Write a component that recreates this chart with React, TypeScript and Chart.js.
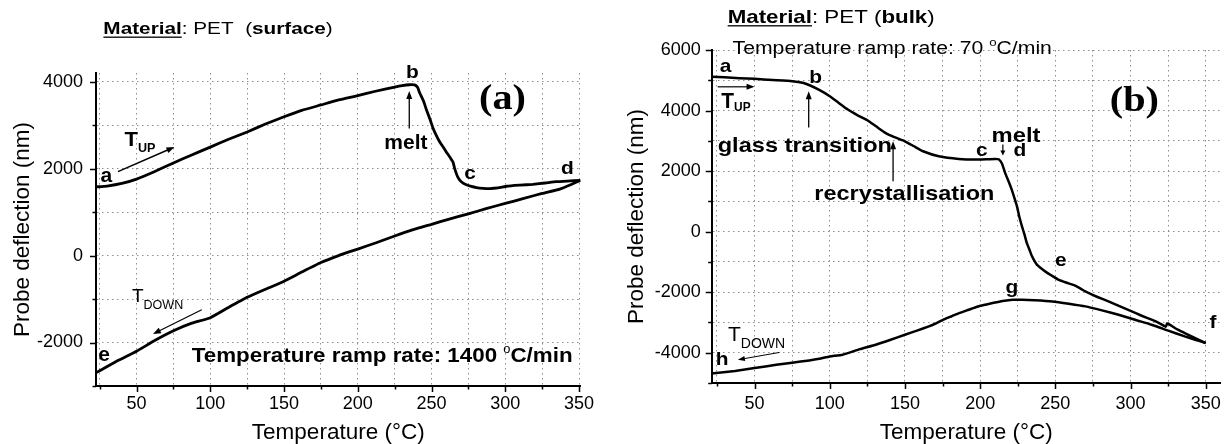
import React, { useEffect, useRef } from 'react';
import { Chart, registerables } from 'chart.js';

Chart.register(...registerables);

// ---------------- DATA ----------------
// Panel (a): PET surface, heating (T_UP) a -> b -> c -> d
const A_UP_T = [22.5, 30, 40, 50, 62, 75, 87, 100, 112, 125, 137, 150, 162, 175, 187, 200, 212, 225, 230, 235, 238.5, 240.5, 242, 244.5, 246.6, 249, 251.1, 253.3, 255.6, 258, 260.1, 262.5, 264.6, 265.7, 267.9, 270.2, 273.6, 277, 280.4, 285, 289.4, 295, 301, 310, 318.7, 327, 334.5, 342, 351];
const A_UP_D = [1580, 1600, 1660, 1760, 1930, 2130, 2310, 2495, 2670, 2844, 3020, 3193, 3340, 3465, 3580, 3681, 3780, 3877, 3910, 3930, 3925, 3870, 3740, 3560, 3349, 3130, 2923, 2760, 2612, 2490, 2379, 2260, 2147, 2000, 1798, 1698, 1628, 1590, 1565, 1548, 1542, 1555, 1595, 1620, 1640, 1670, 1700, 1715, 1730];
// Panel (a): cooling (T_DOWN) d -> e
const A_DOWN_T = [351, 345, 337, 325, 312, 300, 287, 275, 262, 250, 237, 225, 212, 200, 187, 175, 162, 150, 137, 125, 112, 100, 87, 75, 62, 50, 37, 25, 22.5];
const A_DOWN_D = [1730, 1640, 1530, 1430, 1310, 1200, 1080, 960, 840, 720, 590, 450, 290, 150, 0, -160, -380, -590, -780, -960, -1200, -1430, -1560, -1730, -1960, -2200, -2420, -2650, -2690];

// Panel (b): PET bulk, heating a -> b -> c -> d -> e -> f
const B_UP_T = [21.5, 30, 40, 50, 62, 75, 82, 87, 93, 100, 106, 112, 118, 125, 131, 137, 143, 150, 156, 162, 172.5, 185.8, 199, 205, 210, 212.3, 214.5, 216.6, 219, 221, 222.8, 224.5, 226, 227.8, 229.5, 231, 232.8, 234.5, 236, 237.7, 240.5, 243.2, 247.5, 252, 257.5, 263.2, 268, 272, 278, 285.3, 293, 300.8, 307, 314, 319, 323.5, 324.3, 326, 330, 336, 343, 350];
const B_UP_D = [5114, 5100, 5070, 5048, 5010, 4970, 4920, 4827, 4680, 4473, 4250, 4033, 3860, 3680, 3470, 3263, 3120, 2985, 2820, 2655, 2490, 2403, 2380, 2390, 2400, 2390, 2250, 1940, 1650, 1390, 1110, 836, 500, 175, -100, -374, -600, -816, -960, -1091, -1210, -1312, -1450, -1587, -1690, -1785, -1920, -2027, -2160, -2304, -2470, -2635, -2770, -2909, -3020, -3140, -3030, -3070, -3200, -3350, -3520, -3680];
// Panel (b): cooling f -> g -> h
const B_DOWN_T = [350, 343, 336, 325, 314, 303, 292, 281, 270, 259, 248, 236, 228, 221.7, 215, 209, 203.5, 198, 192.4, 186, 181.3, 175, 170.3, 165.9, 158, 150, 140, 130.6, 120, 108.5, 100, 93, 86.4, 75, 64.4, 50, 37, 24.6, 21.5];
const B_DOWN_D = [-3680, -3570, -3460, -3270, -3075, -2910, -2744, -2600, -2469, -2380, -2304, -2265, -2250, -2248, -2290, -2350, -2413, -2480, -2579, -2690, -2790, -2920, -3040, -3131, -3270, -3405, -3580, -3736, -3880, -4066, -4122, -4200, -4255, -4330, -4397, -4507, -4600, -4672, -4690];

// Ticks
const X_TICKS = [25, 50, 75, 100, 125, 150, 175, 200, 225, 250, 275, 300, 325, 350];
const X_LABELS = [50, 100, 150, 200, 250, 300, 350];
const A_Y_TICKS = [-3000, -2000, -1000, 0, 1000, 2000, 3000, 4000];
const A_Y_LABELS = [-2000, 0, 2000, 4000];
const B_Y_TICKS = [-5000, -4000, -3000, -2000, -1000, 0, 1000, 2000, 3000, 4000, 5000, 6000];
const B_Y_LABELS = [-4000, -2000, 0, 2000, 4000, 6000];

const X_TITLE = 'Temperature (°C)';
const Y_TITLE = 'Probe deflection (nm)';

// ---------------- ANNOTATIONS (data coordinates) ----------------
type Seg = { t: string; size: number; bold?: boolean; serif?: boolean; dy?: number; underline?: boolean };
type Item =
  | { kind: 'text'; x: number; y: number; sx?: number; segs: Seg[] }
  | { kind: 'arrow'; x1: number; y1: number; x2: number; y2: number; lw?: number; hl?: number; hw?: number };

const A_ITEMS: Item[] = [
  { kind: 'text', x: 27.5, y: 5094, sx: 1.22, segs: [
    { t: 'Material', size: 17, bold: true, underline: true },
    { t: ': PET  (', size: 17 },
    { t: 'surface', size: 17, bold: true },
    { t: ')', size: 17 },
  ] },
  { kind: 'text', x: 282.2, y: 3366, sx: 1.15, segs: [{ t: '(a)', size: 35, bold: true, serif: true }] },
  { kind: 'text', x: 232.7, y: 4087, sx: 1.1, segs: [{ t: 'b', size: 19, bold: true }] },
  { kind: 'text', x: 218, y: 2459, sx: 1.05, segs: [{ t: 'melt', size: 20, bold: true }] },
  { kind: 'arrow', x1: 234.9, y1: 2924, x2: 234.9, y2: 3785, lw: 1.3, hl: 8, hw: 3 },
  { kind: 'text', x: 272.1, y: 1761, sx: 1.1, segs: [{ t: 'c', size: 19, bold: true }] },
  { kind: 'text', x: 337.7, y: 1877, sx: 1.1, segs: [{ t: 'd', size: 19, bold: true }] },
  { kind: 'text', x: 25.5, y: 1684, sx: 1.0, segs: [{ t: 'a', size: 21, bold: true }] },
  { kind: 'text', x: 24.1, y: -2426, sx: 1.0, segs: [{ t: 'e', size: 21, bold: true }] },
  { kind: 'text', x: 41.8, y: 2512, sx: 1.05, segs: [
    { t: 'T', size: 21, bold: true },
    { t: 'UP', size: 12, bold: true, dy: 5.6 },
  ] },
  { kind: 'arrow', x1: 37.4, y1: 1931, x2: 75.7, y2: 2498, lw: 1.5, hl: 8, hw: 3 },
  { kind: 'text', x: 46.9, y: -1070, sx: 1.0, segs: [
    { t: 'T', size: 19 },
    { t: 'DOWN', size: 12.5, dy: 7.3 },
  ] },
  { kind: 'arrow', x1: 94.2, y1: -1247, x2: 61.1, y2: -1805, lw: 1.2, hl: 8, hw: 3 },
  { kind: 'text', x: 87.4, y: -2449, sx: 1.065, segs: [
    { t: 'Temperature ramp rate: 1400 ', size: 21, bold: true },
    { t: 'o', size: 12, dy: -9 },
    { t: 'C/min', size: 21, bold: true },
  ] },
];

const B_ITEMS: Item[] = [
  { kind: 'text', x: 32.1, y: 6900, sx: 1.2, segs: [
    { t: 'Material', size: 18.6, bold: true, underline: true },
    { t: ': PET (', size: 18.6 },
    { t: 'bulk', size: 18.6, bold: true },
    { t: ')', size: 18.6 },
  ] },
  { kind: 'text', x: 35.4, y: 5852, sx: 1.21, segs: [
    { t: 'Temperature ramp rate: 70 ', size: 17.5 },
    { t: 'o', size: 11, dy: -8 },
    { t: 'C/min', size: 17.5 },
  ] },
  { kind: 'text', x: 286.2, y: 4000, sx: 1.15, segs: [{ t: '(b)', size: 35, bold: true, serif: true }] },
  { kind: 'text', x: 26.8, y: 5257, sx: 1.1, segs: [{ t: 'a', size: 19, bold: true }] },
  { kind: 'text', x: 86.4, y: 4926, sx: 1.1, segs: [{ t: 'b', size: 19, bold: true }] },
  { kind: 'arrow', x1: 25.5, y1: 4784, x2: 50, y2: 4784, lw: 1.2, hl: 8, hw: 3 },
  { kind: 'text', x: 27.9, y: 4090, sx: 0.95, segs: [
    { t: 'T', size: 22, bold: true },
    { t: 'UP', size: 12.5, bold: true, dy: 3.4 },
  ] },
  { kind: 'arrow', x1: 86, y1: 3438, x2: 86, y2: 4638, lw: 1.3, hl: 8, hw: 3 },
  { kind: 'text', x: 25.5, y: 2645, sx: 1.15, segs: [{ t: 'glass transition', size: 20.5, bold: true }] },
  { kind: 'arrow', x1: 142.1, y1: 1663, x2: 142.1, y2: 2985, lw: 1.3, hl: 8, hw: 3 },
  { kind: 'text', x: 89.7, y: 1058, sx: 1.145, segs: [{ t: 'recrystallisation', size: 20.5, bold: true }] },
  { kind: 'text', x: 207.6, y: 2975, sx: 1.16, segs: [{ t: 'melt', size: 20.5, bold: true }] },
  { kind: 'arrow', x1: 215.1, y1: 2876, x2: 215.1, y2: 2513, lw: 1.2, hl: 5, hw: 2.5 },
  { kind: 'text', x: 197.2, y: 2489, sx: 1.1, segs: [{ t: 'c', size: 19, bold: true }] },
  { kind: 'text', x: 222.2, y: 2489, sx: 1.1, segs: [{ t: 'd', size: 19, bold: true }] },
  { kind: 'text', x: 249.8, y: -1147, sx: 1.1, segs: [{ t: 'e', size: 19, bold: true }] },
  { kind: 'text', x: 216.9, y: -2017, sx: 1.1, segs: [{ t: 'g', size: 19, bold: true }] },
  { kind: 'text', x: 352.5, y: -3184, sx: 1.1, segs: [{ t: 'f', size: 19, bold: true }] },
  { kind: 'text', x: 24.2, y: -4397, sx: 1.1, segs: [{ t: 'h', size: 19, bold: true }] },
  { kind: 'text', x: 32.3, y: -3627, sx: 1.0, segs: [
    { t: 'T', size: 21 },
    { t: 'DOWN', size: 14, dy: 6.6 },
  ] },
  { kind: 'arrow', x1: 66.6, y1: -3990, x2: 38.9, y2: -4232, lw: 1.0, hl: 7, hw: 2.5 },
];

// ---------------- DRAWING HELPERS ----------------
function fontOf(s: Seg) {
  const fam = s.serif ? '"Liberation Serif", "Times New Roman", serif' : '"Liberation Sans", Arial, sans-serif';
  return `${s.bold ? 'bold ' : ''}${s.size}px ${fam}`;
}

function drawRich(ctx: CanvasRenderingContext2D, px: number, py: number, sx: number, segs: Seg[]) {
  ctx.save();
  ctx.translate(px, py);
  ctx.scale(sx, 1);
  ctx.fillStyle = '#000';
  ctx.textAlign = 'left';
  ctx.textBaseline = 'alphabetic';
  let cx = 0;
  for (const s of segs) {
    ctx.font = fontOf(s);
    ctx.fillText(s.t, cx, s.dy || 0);
    const w = ctx.measureText(s.t).width;
    if (s.underline) ctx.fillRect(cx, 2.4, w, 1.3);
    cx += w;
  }
  ctx.restore();
}

function drawArrow(ctx: CanvasRenderingContext2D, x1: number, y1: number, x2: number, y2: number, lw: number, hl: number, hw: number) {
  const a = Math.atan2(y2 - y1, x2 - x1);
  const c = Math.cos(a), s = Math.sin(a);
  ctx.save();
  ctx.strokeStyle = '#000';
  ctx.fillStyle = '#000';
  ctx.lineWidth = lw;
  ctx.beginPath();
  ctx.moveTo(x1, y1);
  ctx.lineTo(x2 - c * hl * 0.7, y2 - s * hl * 0.7);
  ctx.stroke();
  ctx.beginPath();
  ctx.moveTo(x2, y2);
  ctx.lineTo(x2 - hl * c + hw * s, y2 - hl * s - hw * c);
  ctx.lineTo(x2 - hl * c - hw * s, y2 - hl * s + hw * c);
  ctx.closePath();
  ctx.fill();
  ctx.restore();
}

function makeAnnotPlugin(items: Item[]) {
  return {
    id: 'annot',
    afterDraw(chart: any) {
      const { ctx } = chart;
      const xs = chart.scales.x, ys = chart.scales.y;
      for (const it of items) {
        if (it.kind === 'text') {
          drawRich(ctx, xs.getPixelForValue(it.x), ys.getPixelForValue(it.y), it.sx ?? 1, it.segs);
        } else {
          drawArrow(ctx,
            xs.getPixelForValue(it.x1), ys.getPixelForValue(it.y1),
            xs.getPixelForValue(it.x2), ys.getPixelForValue(it.y2),
            it.lw ?? 1.2, it.hl ?? 8, it.hw ?? 3);
        }
      }
    },
  };
}

function makeTickPlugin(xMajor: number[], yMajor: number[]) {
  return {
    id: 'tickMarks',
    afterDraw(chart: any) {
      const { ctx, chartArea } = chart;
      const xs = chart.scales.x, ys = chart.scales.y;
      ctx.save();
      ctx.strokeStyle = '#000';
      ctx.lineWidth = 1.5;
      ctx.beginPath();
      for (const t of xs.ticks) {
        const p = Math.round(xs.getPixelForValue(t.value)) + 0.5;
        const len = xMajor.includes(t.value) ? 6 : 3.5;
        ctx.moveTo(p, chartArea.bottom);
        ctx.lineTo(p, chartArea.bottom + len);
      }
      for (const t of ys.ticks) {
        const p = Math.round(ys.getPixelForValue(t.value)) + 0.5;
        const len = yMajor.includes(t.value) ? 6 : 3.5;
        ctx.moveTo(chartArea.left, p);
        ctx.lineTo(chartArea.left - len, p);
      }
      ctx.stroke();
      ctx.restore();
    },
  };
}

const zip = (xs: number[], ys: number[]) => xs.map((x, i) => ({ x, y: ys[i] }));

type Spec = {
  width: number;
  upT: number[]; upD: number[]; downT: number[]; downD: number[];
  xMin: number; xMax: number; yMin: number; yMax: number;
  yTicks: number[]; yLabels: number[];
  padTop: number; padRight: number; yAxisW: number; xAxisH: number;
  yTickPad: number; xTickPad: number; yTitlePad: number;
  lw: number; items: Item[];
};

const TICK_FONT = { family: '"Liberation Sans", Arial, sans-serif', size: 18 };
const TITLE_FONT = { family: '"Liberation Sans", Arial, sans-serif', size: 22.5, lineHeight: 1 };
const GRID_COLOR = '#8e8e8e';

function buildChart(canvas: HTMLCanvasElement, sp: Spec) {
  const lineDs = (data: { x: number; y: number }[]) => ({
    data,
    borderColor: '#000',
    backgroundColor: '#000',
    borderWidth: sp.lw,
    pointRadius: 0,
    tension: 0.15,
    fill: false,
  });
  return new Chart(canvas, {
    type: 'line',
    data: { datasets: [lineDs(zip(sp.upT, sp.upD)), lineDs(zip(sp.downT, sp.downD))] },
    options: {
      animation: false,
      responsive: false,
      events: [],
      layout: { padding: { left: 0, top: sp.padTop, right: sp.padRight, bottom: 0 } },
      plugins: { legend: { display: false }, tooltip: { enabled: false }, title: { display: false } },
      scales: {
        x: {
          type: 'linear',
          min: sp.xMin,
          max: sp.xMax,
          afterBuildTicks: (s: any) => { s.ticks = X_TICKS.map((v) => ({ value: v })); },
          afterFit: (s: any) => { s.height = sp.xAxisH; },
          ticks: {
            autoSkip: false,
            maxRotation: 0,
            padding: sp.xTickPad,
            color: '#000',
            font: TICK_FONT,
            callback: (v: any) => (X_LABELS.includes(Number(v)) ? String(v) : ''),
          },
          grid: { color: GRID_COLOR, lineWidth: 1, drawTicks: false },
          border: { display: true, color: '#000', width: 2, dash: [1.5, 3.5] },
          title: { display: true, text: X_TITLE, color: '#000', font: TITLE_FONT, padding: { top: 0, bottom: 0 } },
        },
        y: {
          type: 'linear',
          min: sp.yMin,
          max: sp.yMax,
          afterBuildTicks: (s: any) => { s.ticks = sp.yTicks.map((v) => ({ value: v })); },
          afterFit: (s: any) => { s.width = sp.yAxisW; },
          ticks: {
            autoSkip: false,
            padding: sp.yTickPad,
            color: '#000',
            font: TICK_FONT,
            callback: (v: any) => (sp.yLabels.includes(Number(v)) ? String(v) : ''),
          },
          grid: { color: GRID_COLOR, lineWidth: 1, drawTicks: false },
          border: { display: true, color: '#000', width: 2, dash: [1.5, 3.5] },
          title: { display: true, text: Y_TITLE, color: '#000', font: TITLE_FONT, padding: { top: sp.yTitlePad, bottom: 0 } },
        },
      },
    } as any,
    plugins: [makeTickPlugin(X_LABELS, sp.yLabels), makeAnnotPlugin(sp.items)],
  });
}

const SPEC_A: Spec = {
  width: 610,
  upT: A_UP_T, upD: A_UP_D, downT: A_DOWN_T, downD: A_DOWN_D,
  xMin: 22.5, xMax: 351, yMin: -3000, yMax: 4200,
  yTicks: A_Y_TICKS, yLabels: A_Y_LABELS,
  padTop: 73, padRight: 29.5, yAxisW: 96, xAxisH: 58,
  yTickPad: 13, xTickPad: 7, yTitlePad: 11.5,
  lw: 2.8, items: A_ITEMS,
};

const SPEC_B: Spec = {
  width: 621,
  upT: B_UP_T, upD: B_UP_D, downT: B_DOWN_T, downD: B_DOWN_D,
  xMin: 21.5, xMax: 360, yMin: -5000, yMax: 6000,
  yTicks: B_Y_TICKS, yLabels: B_Y_LABELS,
  padTop: 50, padRight: 8, yAxisW: 101.7, xAxisH: 61,
  yTickPad: 11, xTickPad: 10, yTitlePad: 15.5,
  lw: 2.5, items: B_ITEMS,
};

function Panel({ spec, left }: { spec: Spec; left: number }) {
  const ref = useRef<HTMLCanvasElement | null>(null);
  useEffect(() => {
    if (!ref.current) return;
    const ch = buildChart(ref.current, spec);
    return () => ch.destroy();
  }, [spec]);
  return (
    <canvas
      ref={ref}
      width={spec.width}
      height={444}
      style={{ position: 'absolute', left, top: 0, width: spec.width, height: 444 }}
    />
  );
}

export default function App() {
  return (
    <div style={{ position: 'absolute', left: 0, top: 0, width: 1231, height: 444, background: '#fff', overflow: 'hidden' }}>
      <Panel spec={SPEC_A} left={0} />
      <Panel spec={SPEC_B} left={610} />
    </div>
  );
}
